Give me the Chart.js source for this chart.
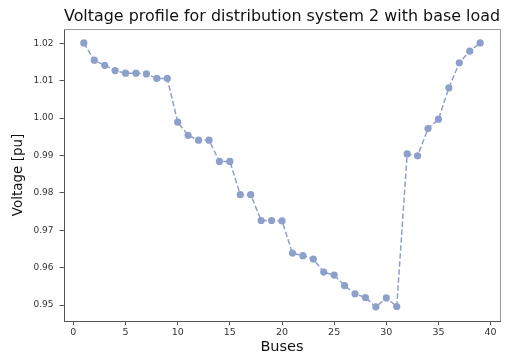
<!DOCTYPE html>
<html>
<head>
<meta charset="utf-8">
<script src="https://cdn.jsdelivr.net/npm/chart.js@4/dist/chart.umd.min.js"></script>
<style>
  html, body { margin: 0; padding: 0; background: #ffffff; }
  #wrap { width: 510px; height: 354px; }
</style>
</head>
<body>
<div id="wrap"><canvas id="c" width="510" height="354"></canvas></div>
<script>
const buses = [1,2,3,4,5,6,7,8,9,10,11,12,13,14,15,16,17,18,19,20,21,22,23,24,25,26,27,28,29,30,31,32,33,34,35,36,37,38,39];
const voltage = [1.0201,1.0155,1.0141,1.0127,1.0120,1.0120,1.0118,1.0106,1.0106,0.9989,
                 0.9954,0.9941,0.9941,0.9884,0.9884,0.9795,0.9795,0.9726,0.9726,0.9725,
                 0.9639,0.9632,0.9623,0.9588,0.9580,0.9552,0.9530,0.9520,0.9495,0.9519,
                 0.9496,0.9904,0.9899,0.9972,0.9997,1.0081,1.0148,1.0179,1.0201];
const xTicks = [0,5,10,15,20,25,30,35,40];
const yTicks = [0.95,0.96,0.97,0.98,0.99,1.00,1.01,1.02];

const lineColor = '#8da0cb';

const framePlugin = {
  id: 'frame',
  afterDraw(chart) {
    const {ctx, chartArea: a} = chart;
    ctx.save();
    ctx.strokeStyle = '#9a9a9a';
    ctx.lineWidth = 1;
    ctx.beginPath();
    ctx.moveTo(a.left, a.top + 0.5);
    ctx.lineTo(a.right + 0.5, a.top + 0.5);
    ctx.lineTo(a.right + 0.5, a.bottom);
    ctx.stroke();
    ctx.restore();
  }
};

new Chart(document.getElementById('c'), {
  type: 'scatter',
  data: {
    datasets: [{
      data: buses.map((b, i) => ({x: b, y: voltage[i]})),
      showLine: true,
      borderColor: lineColor,
      borderWidth: 1.5,
      borderDash: [5.5, 2.5],
      backgroundColor: lineColor,
      pointBackgroundColor: lineColor,
      pointBorderColor: lineColor,
      pointBorderWidth: 0,
      pointRadius: 3.6,
      tension: 0
    }]
  },
  options: {
    responsive: false,
    animation: false,
    devicePixelRatio: 1,
    layout: { padding: { left: 0, right: 10, top: 0, bottom: 0 } },
    plugins: {
      legend: { display: false },
      tooltip: { enabled: false },
      title: {
        display: true,
        text: 'Voltage profile for distribution system 2 with base load',
        fullSize: false,
        color: '#111',
        font: { family: 'DejaVu Sans', size: 16.5, weight: 'normal', lineHeight: 1.2 },
        padding: { top: 7, bottom: 2.2 }
      }
    },
    scales: {
      x: {
        type: 'linear',
        min: -0.9,
        max: 40.9,
        afterBuildTicks: s => { s.ticks = xTicks.map(v => ({value: v})); },
        afterFit: s => { s.height = 33; },
        grid: { display: true, drawOnChartArea: false, drawTicks: true, tickLength: 4, tickColor: '#555', tickWidth: 1 },
        border: { display: true, color: '#555', width: 1 },
        ticks: {
          color: '#333',
          font: { family: 'DejaVu Sans', size: 9.5 },
          padding: 2,
          maxRotation: 0,
          autoSkip: false,
          includeBounds: false,
          callback: v => String(v)
        },
        title: {
          display: true,
          text: 'Buses',
          color: '#111',
          font: { family: 'DejaVu Sans', size: 14.5, lineHeight: 1 },
          padding: { top: 0, bottom: 0 }
        }
      },
      y: {
        type: 'linear',
        min: 0.94572,
        max: 1.02383,
        afterBuildTicks: s => { s.ticks = yTicks.map(v => ({value: v})); },
        afterFit: s => { s.width = 64; },
        grid: { display: true, drawOnChartArea: false, drawTicks: true, tickLength: 4.5, tickColor: '#555', tickWidth: 1 },
        border: { display: true, color: '#555', width: 1 },
        ticks: {
          color: '#333',
          font: { family: 'DejaVu Sans', size: 9 },
          padding: 6,
          autoSkip: false,
          includeBounds: false,
          callback: v => v.toFixed(2)
        },
        title: {
          display: true,
          text: 'Voltage [pu]',
          color: '#111',
          font: { family: 'DejaVu Sans', size: 13.5, lineHeight: 1 },
          padding: { top: 12, bottom: 0 }
        }
      }
    }
  },
  plugins: [framePlugin]
});
</script>
</body>
</html>
